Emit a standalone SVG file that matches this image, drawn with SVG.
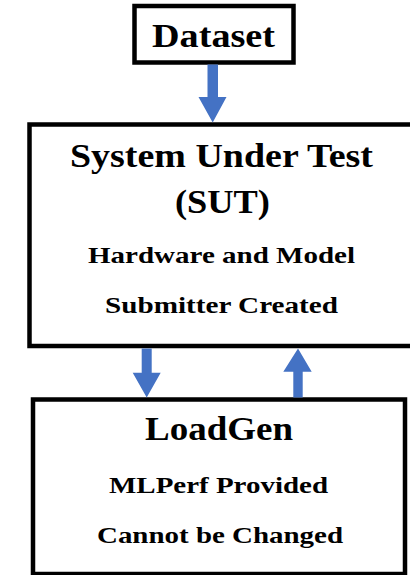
<svg xmlns="http://www.w3.org/2000/svg" width="410" height="575" viewBox="0 0 410 575">
<style>
.box{fill:#fff;stroke:#000;stroke-width:4.5}
.t{font-family:"Liberation Serif","Times New Roman",serif;font-weight:bold;fill:#000;text-anchor:middle}
.big{font-size:34px}
.sm{font-size:24px}
.arr{fill:#4472C4}
</style>
<rect width="410" height="575" fill="#fff"/>
<g id="dataset">
<rect class="box" x="134.5" y="6" width="159" height="56.5"/>
<text class="t big" x="213.5" y="47" textLength="123" lengthAdjust="spacingAndGlyphs">Dataset</text>
</g>
<g id="sut">
<rect class="box" x="29.5" y="124.5" width="390" height="221.5"/>
<text class="t big" x="221.5" y="167" textLength="303" lengthAdjust="spacingAndGlyphs">System Under Test</text>
<text class="t big" x="222.5" y="213" textLength="95" lengthAdjust="spacingAndGlyphs">(SUT)</text>
<text class="t sm" x="221.5" y="263" textLength="267" lengthAdjust="spacingAndGlyphs">Hardware and Model</text>
<text class="t sm" x="221.5" y="313" textLength="233" lengthAdjust="spacingAndGlyphs">Submitter Created</text>
</g>
<g id="loadgen">
<rect class="box" x="33" y="399.5" width="372" height="174.5"/>
<text class="t big" x="219" y="440" textLength="148" lengthAdjust="spacingAndGlyphs">LoadGen</text>
<text class="t sm" x="218.5" y="493" textLength="219" lengthAdjust="spacingAndGlyphs">MLPerf Provided</text>
<text class="t sm" x="220" y="543" textLength="246" lengthAdjust="spacingAndGlyphs">Cannot be Changed</text>
</g>
<g id="connectors">
<polygon class="arr" points="207.5,64.5 218,64.5 218,97 226.5,97 212.7,122.5 198.5,97 207.5,97"/>
<polygon class="arr" points="141.7,348.5 151.7,348.5 151.7,372.7 160.7,372.7 146.7,397.5 132.7,372.7 141.7,372.7"/>
<polygon class="arr" points="293.3,397.5 302.7,397.5 302.7,371.7 311.7,371.7 298,348.5 283.3,371.7 293.3,371.7"/>
</g>
</svg>
